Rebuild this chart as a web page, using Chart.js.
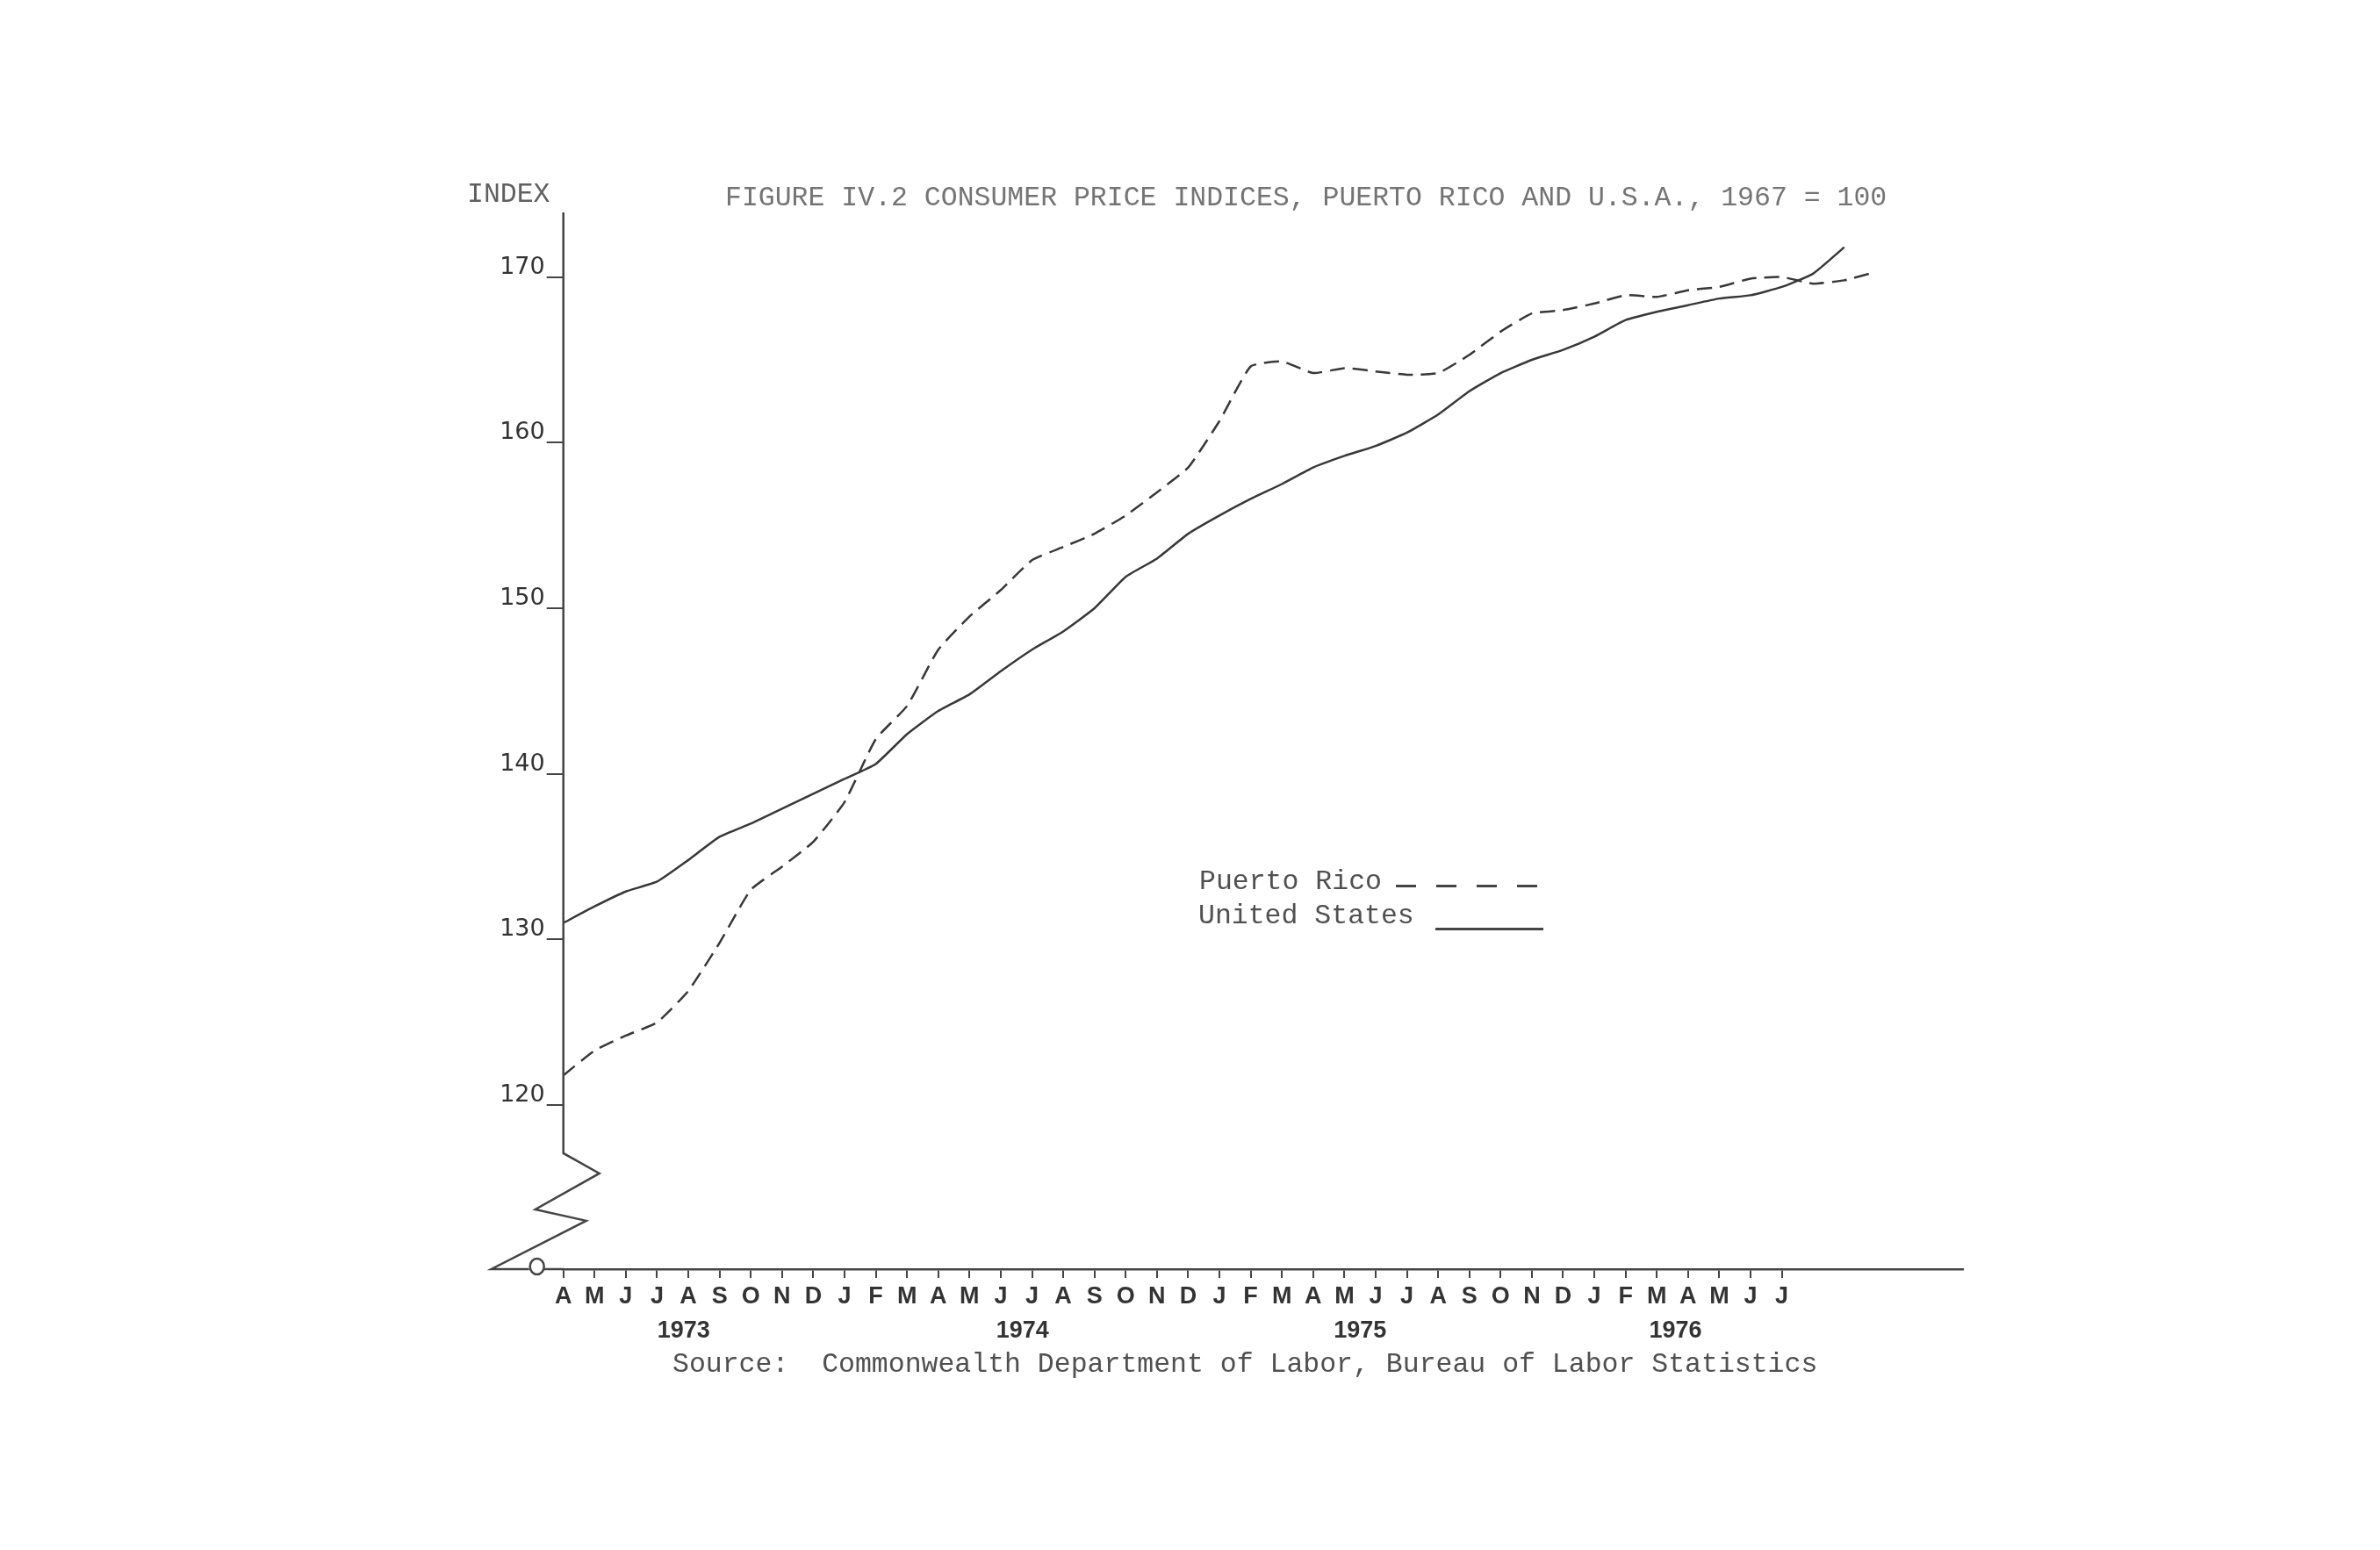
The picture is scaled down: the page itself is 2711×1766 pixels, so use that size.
<!DOCTYPE html>
<html>
<head>
<meta charset="utf-8">
<title>Figure IV.2 Consumer Price Indices, Puerto Rico and U.S.A.</title>
<script src="https://cdn.jsdelivr.net/npm/chart.js@4.4.1/dist/chart.umd.min.js"></script>
<style>
  html, body { margin: 0; padding: 0; background: #fff; }
  #page { position: relative; width: 2711px; height: 1766px; overflow: hidden; }
  #page canvas { position: absolute; left: 0; top: 0; }
  .txt {
    position: absolute;
    font-family: "Liberation Mono", "DejaVu Sans Mono", monospace;
    font-size: 31.5px;
    line-height: 31.5px;
    white-space: pre;
    color: #505050;
  }
  #title { left: 826px; top: 210px; color: #747474; }
  #indexLabel { left: 532px; top: 206px; color: #606060; }
  #source { left: 766px; top: 1539px; }
  #legPR { left: 1366px; top: 989px; }
  #legUS { left: 1365px; top: 1028px; }
  .sample { position: absolute; height: 3px; }
  #samplePR {
    left: 1590px; top: 1008px; width: 168px;
    background: repeating-linear-gradient(to right, #444 0 23px, transparent 23px 46px);
  }
  #sampleUS { left: 1635px; top: 1057px; width: 123px; background: #444; }
</style>
</head>
<body>
<div id="page">
  <canvas id="cpiChart" width="2711" height="1766"></canvas>
  <div class="txt" id="indexLabel">INDEX</div>
  <div class="txt" id="title">FIGURE IV.2 CONSUMER PRICE INDICES, PUERTO RICO AND U.S.A., 1967 = 100</div>
  <div class="txt" id="legPR">Puerto Rico</div>
  <div class="sample" id="samplePR"></div>
  <div class="txt" id="legUS">United States</div>
  <div class="sample" id="sampleUS"></div>
  <div class="txt" id="source">Source:  Commonwealth Department of Labor, Bureau of Labor Statistics</div>
</div>
<script>
// months from April 1973 to July 1976
const monthLabels = ['A','M','J','J','A','S','O','N','D',
                     'J','F','M','A','M','J','J','A','S','O','N','D',
                     'J','F','M','A','M','J','J','A','S','O','N','D',
                     'J','F','M','A','M','J','J'];
const yearLabels = ['1973', '1974', '1975', '1976'];
const yearAt = [3.85, 14.7, 25.5, 35.6];   // month index each year label sits under
const indexTicks = [120, 130, 140, 150, 160, 170];

// 1967 = 100, monthly from April 1973
const puertoRico = [121.8, 123.3, 124.2, 125.0, 126.9, 129.8, 133.0, 134.4, 135.9, 138.3,
                    142.1, 144.1, 147.5, 149.5, 151.1, 152.9, 153.7, 154.5, 155.6, 157.0,
                    158.5, 161.3, 164.6, 164.9, 164.2, 164.5, 164.3, 164.1, 164.2, 165.3,
                    166.7, 167.8, 168.0, 168.4, 168.9, 168.8, 169.2, 169.4, 169.9, 170.0,
                    169.6, 169.8, 170.3];
const unitedStates = [131.0, 132.0, 132.9, 133.5, 134.8, 136.2, 137.0, 137.9, 138.8, 139.7,
                      140.6, 142.4, 143.8, 144.8, 146.2, 147.5, 148.6, 150.0, 151.9, 153.0,
                      154.5, 155.6, 156.6, 157.5, 158.5, 159.2, 159.8, 160.6, 161.7, 163.1,
                      164.2, 165.0, 165.6, 166.4, 167.4, 167.9, 168.3, 168.7, 168.9, 169.4,
                      170.2, 171.8];

const axisColor = '#444';
const inkColor = '#383838';

// y axis with the zigzag break down to the origin
const brokenAxis = {
    id: 'brokenAxis',
    afterDraw(chart) {
        const { ctx, chartArea, scales } = chart;
        const x0 = scales.x.getPixelForValue(0);
        const yBreak = scales.y.getPixelForValue(117.1);
        const yb = chartArea.bottom;
        ctx.save();
        ctx.strokeStyle = axisColor;
        ctx.lineWidth = 2.5;
        ctx.beginPath();
        ctx.moveTo(x0, chartArea.top);
        ctx.lineTo(x0, yBreak);
        ctx.lineTo(x0 + 41, yBreak + 23);
        ctx.lineTo(x0 - 32, yBreak + 64);
        ctx.lineTo(x0 + 26, yBreak + 77);
        ctx.lineTo(x0 - 82, yb);
        ctx.lineTo(x0 - 39, yb);
        ctx.stroke();
        ctx.beginPath();
        ctx.ellipse(x0 - 30, yb - 3, 8, 9, 0, 0, Math.PI * 2);
        ctx.stroke();
        ctx.beginPath();
        ctx.moveTo(x0 - 22, yb);
        ctx.lineTo(x0, yb);
        ctx.stroke();
        ctx.restore();
    }
};

const ctx = document.getElementById('cpiChart').getContext('2d');
const cpiChart = new Chart(ctx, {
    type: 'line',
    data: {
        datasets: [
            {
                label: 'Puerto Rico',
                data: puertoRico.map((v, i) => ({ x: i, y: v })),
                borderColor: inkColor,
                borderWidth: 2.5,
                borderDash: [17, 9],
                pointRadius: 0,
                tension: 0.15,
                fill: false,
                xAxisID: 'x',
            },
            {
                label: 'United States',
                data: unitedStates.map((v, i) => ({ x: i, y: v })),
                borderColor: inkColor,
                borderWidth: 2.5,
                pointRadius: 0,
                tension: 0.15,
                fill: false,
                xAxisID: 'x',
            },
        ],
    },
    options: {
        responsive: false,
        animation: false,
        layout: { padding: { left: 521.7, right: 475, top: 242, bottom: 220 } },
        plugins: {
            legend: { display: false },
            tooltip: { enabled: false },
        },
        scales: {
            x: {
                type: 'linear',
                axis: 'x',
                position: 'bottom',
                weight: 0,
                min: 0,
                max: 44.8,
                afterBuildTicks: s => { s.ticks = monthLabels.map((_, i) => ({ value: i })); },
                afterFit: s => { s.height = 46; },
                grid: { drawOnChartArea: false, drawTicks: true, tickLength: 10, color: axisColor, lineWidth: 2 },
                border: { display: true, color: axisColor, width: 2.5 },
                ticks: {
                    autoSkip: false,
                    maxRotation: 0,
                    padding: 5,
                    color: '#333',
                    font: { family: 'Liberation Sans', size: 27, weight: 'bold' },
                    callback: (v, i) => monthLabels[i],
                },
            },
            xYears: {
                type: 'linear',
                axis: 'x',
                position: 'bottom',
                weight: 1,
                min: 0,
                max: 44.8,
                afterBuildTicks: s => { s.ticks = yearAt.map(v => ({ value: v })); },
                afterFit: s => { s.height = 54; },
                grid: { display: false },
                border: { display: false },
                ticks: {
                    autoSkip: false,
                    maxRotation: 0,
                    padding: 0,
                    color: '#333',
                    font: { family: 'Liberation Sans', size: 27, weight: 'bold' },
                    callback: (v, i) => yearLabels[i],
                },
            },
            y: {
                type: 'linear',
                min: 110.1,
                max: 173.9,
                afterBuildTicks: s => { s.ticks = indexTicks.map(v => ({ value: v })); },
                afterFit: s => { s.width = 120; },
                grid: { drawOnChartArea: false, drawTicks: true, tickLength: 19, color: axisColor, lineWidth: 2 },
                border: { display: false },
                ticks: {
                    padding: 2,
                    labelOffset: -11,
                    color: '#333',
                    font: { family: 'DejaVu Sans', size: 27 },
                },
            },
        },
    },
    plugins: [brokenAxis],
});
</script>
</body>
</html>
